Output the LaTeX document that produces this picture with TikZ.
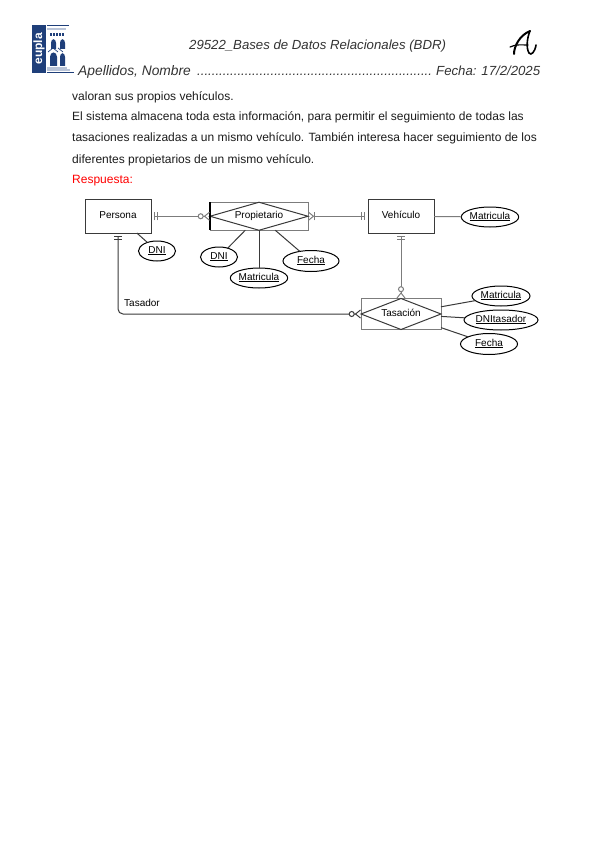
\documentclass[tikz,border=0pt]{standalone}
\usepackage{fontspec}
\setmainfont{Liberation Sans}
\usetikzlibrary{arrows.meta,positioning,shapes.geometric,calc}
\definecolor{EuplaBlue}{HTML}{1F3F7A}
\definecolor{EuplaLight}{HTML}{B9C4D8}
\definecolor{ErLine}{HTML}{3A3A3A}
\definecolor{ErGray}{HTML}{7C7C7C}
\definecolor{BodyInk}{HTML}{1C1C1C}
\definecolor{HeadInk}{HTML}{333333}
\tikzset{
  onetip/.tip={Bar[width=8pt,line width=1pt,sep=1.6pt]Bar[width=8pt,line width=1pt,sep=3pt]},
  crowtip/.tip={Circle[open,length=6pt,width=6pt,line width=1pt,fill=white,sep=0pt]Straight Barb[reversed,length=5pt,width=8pt,line width=1pt]},
  onecrowtip/.tip={Bar[width=8pt,line width=1pt,sep=0pt]Straight Barb[reversed,length=5pt,width=8pt,line width=1pt]}
}
\begin{document}
\begin{tikzpicture}[
    x=1pt,y=-1pt,
    entity/.style={draw=ErLine,line width=1pt,outer sep=0pt,minimum width=66pt,minimum height=33.5pt,inner sep=0pt,text height=7pt,text depth=3pt,font=\fontsize{10}{12}\selectfont},
    assocbox/.style={draw=ErGray,line width=1pt,outer sep=0pt,inner sep=0pt},
    assocdiam/.style={diamond,draw=ErLine,line width=1pt,outer sep=0pt,inner sep=0pt,text height=7pt,text depth=3pt,font=\fontsize{10}{12}\selectfont},
    attr/.style={ellipse,draw=black,line width=1pt,outer sep=0pt,fill=white,minimum height=20pt,inner sep=0pt,text height=7pt,text depth=3pt,font=\fontsize{10}{12}\selectfont},
    rel/.style={ErLine,line width=1pt},
    relgray/.style={ErGray,line width=1pt},
    bodyline/.style={anchor=base west,inner sep=0pt,text=BodyInk,font=\fontsize{12}{14}\selectfont},
    headline/.style={anchor=base west,inner sep=0pt,text=HeadInk,font=\fontsize{13.2}{15}\selectfont\itshape}
  ]
    \useasboundingbox (0,0) rectangle (599,848);
    \fill[white] (0,0) rectangle (599,848);

    \fill[EuplaBlue] (32,25) rectangle (46,73);
    \node[rotate=90,text=white,inner sep=0pt,font=\fontsize{12}{14}\selectfont\bfseries] (eupla) at (39,49) {eupla};
    \fill[EuplaBlue] (47,25) rectangle (69,26.5);
    \fill[EuplaLight] (47,28) rectangle (66,30);
    \foreach \xw in {50,53,56,59,62} \fill[EuplaBlue] (\xw,33) rectangle +(1.8,3);
    \fill[EuplaBlue] (51,43) .. controls (51,38) and (56,38) .. (56,43) -- (56,49) -- (51,49) -- cycle;
    \fill[EuplaBlue] (60,43) .. controls (60,38) and (65,38) .. (65,43) -- (65,49) -- (60,49) -- cycle;
    \fill[EuplaBlue] (50,57) .. controls (50,51) and (57,51) .. (57,57) -- (57,66) -- (50,66) -- cycle;
    \fill[EuplaBlue] (60,57) .. controls (60,52) and (65,52) .. (65,57) -- (65,66) -- (60,66) -- cycle;
    \draw[EuplaBlue,line width=.7pt] (48,52) -- (53,48) -- (58,52) (58,48) -- (63,52);
    \fill[EuplaLight] (47,67) rectangle (67,69);
    \fill[EuplaLight] (47,69.5) rectangle (70,71.5);
    \fill[EuplaBlue] (47,72) rectangle (74,73.5);

    \node[headline] (title) at (189,50) {29522\_Bases de Datos Relacionales (BDR)};
    \node[headline,font=\fontsize{13.8}{15}\selectfont\itshape] (name) at (78,76) {Apellidos, Nombre};
    \node[headline] (dots) at (197,76) {................................................................};
    \node[headline] (fecha) at (436,76) {Fecha: 17/2/2025};
    \draw[black,line width=2pt,line cap=round] (514,54) .. controls (514,46) and (520,35) .. (530,31);
    \draw[black,line width=1.6pt,line cap=round] (530,31) .. controls (527,38) and (526,48) .. (529,53) .. controls (531,56) and (535,52) .. (536,45);
    \draw[black,line width=1.2pt,line cap=round] (510,47) .. controls (516,44) and (522,45) .. (528,45);

    \node[bodyline] (line1) at (72,101) {valoran sus propios vehículos.};
    \node[bodyline] (line2) at (72,121) {El sistema almacena toda esta información, para permitir el seguimiento de todas las};
    \node[bodyline] (line3) at (72,142) {tasaciones realizadas a un mismo vehículo. También interesa hacer seguimiento de los};
    \node[bodyline] (line4) at (72,163) {diferentes propietarios de un mismo vehículo.};
    \node[bodyline,text=red] (resp) at (72,183) {Respuesta:};

    \node[entity] (persona) at (118,216.25) {Persona};
    \node[assocbox,minimum width=98pt,minimum height=28pt,right=59pt of persona] (propbox) {};
    \node[assocdiam,minimum width=98pt,minimum height=28pt,aspect=3.5] (prop) at (propbox) {Propietario};
    \node[entity,right=60pt of propbox] (vehiculo) {Vehículo};
    \node[assocbox,minimum width=80pt,minimum height=31pt] (tasbox) at (401,314) {};
    \node[assocdiam,minimum width=80pt,minimum height=31pt,aspect=2.6] (tasacion) at (tasbox) {Tasación};
    \draw[black,line width=1.4pt] (propbox.north west) -- (propbox.south west);

    \node[attr,minimum width=37pt] (dnip) at (157,251) {\underline{DNI}};
    \node[attr,minimum width=37pt] (dniprop) at (219,257) {\underline{DNI}};
    \node[attr,minimum width=57pt] (matprop) at (259,278) {\underline{Matricula}};
    \node[attr,minimum width=56pt,minimum height=21pt] (fechaprop) at (311,261) {\underline{Fecha}};
    \node[attr,minimum width=57pt] (matveh) at (490,217) {\underline{Matricula}};
    \node[attr,minimum width=58pt] (mattas) at (501,296) {\underline{Matricula}};
    \node[attr,minimum width=74pt] (dnitas) at (501,320) {\underline{DNItasador}};
    \node[attr,minimum width=57pt,minimum height=21pt] (fechatas) at (489,344) {\underline{Fecha}};

    \coordinate (corner) at (persona.south |- tasbox.west);
    \node[right=6pt of corner,yshift=11pt,anchor=west,inner sep=0pt,font=\fontsize{10}{12}\selectfont] (tasador) {Tasador};

    \draw[relgray,{onetip}-{crowtip}] (persona.east) -- (propbox.west);
    \draw[relgray,{onetip}-{onecrowtip}] (vehiculo.west) -- (propbox.east);
    \draw[relgray,{onetip}-{crowtip}] (vehiculo.south) -- (tasbox.north);
    \draw[rel,{onetip}-{crowtip},rounded corners=5pt] (persona.south) -- (corner) -- (tasbox.west);

    \draw[rel] (persona) -- (dnip);
    \draw[rel] (propbox) -- (dniprop);
    \draw[rel] (propbox) -- (matprop);
    \draw[rel] (propbox) -- (fechaprop);
    \draw[relgray] (vehiculo) -- (matveh);
    \draw[rel] (tasbox) -- (mattas);
    \draw[rel] (tasbox) -- (dnitas);
    \draw[rel] (tasbox) -- (fechatas);
  \end{tikzpicture}
\end{document}
